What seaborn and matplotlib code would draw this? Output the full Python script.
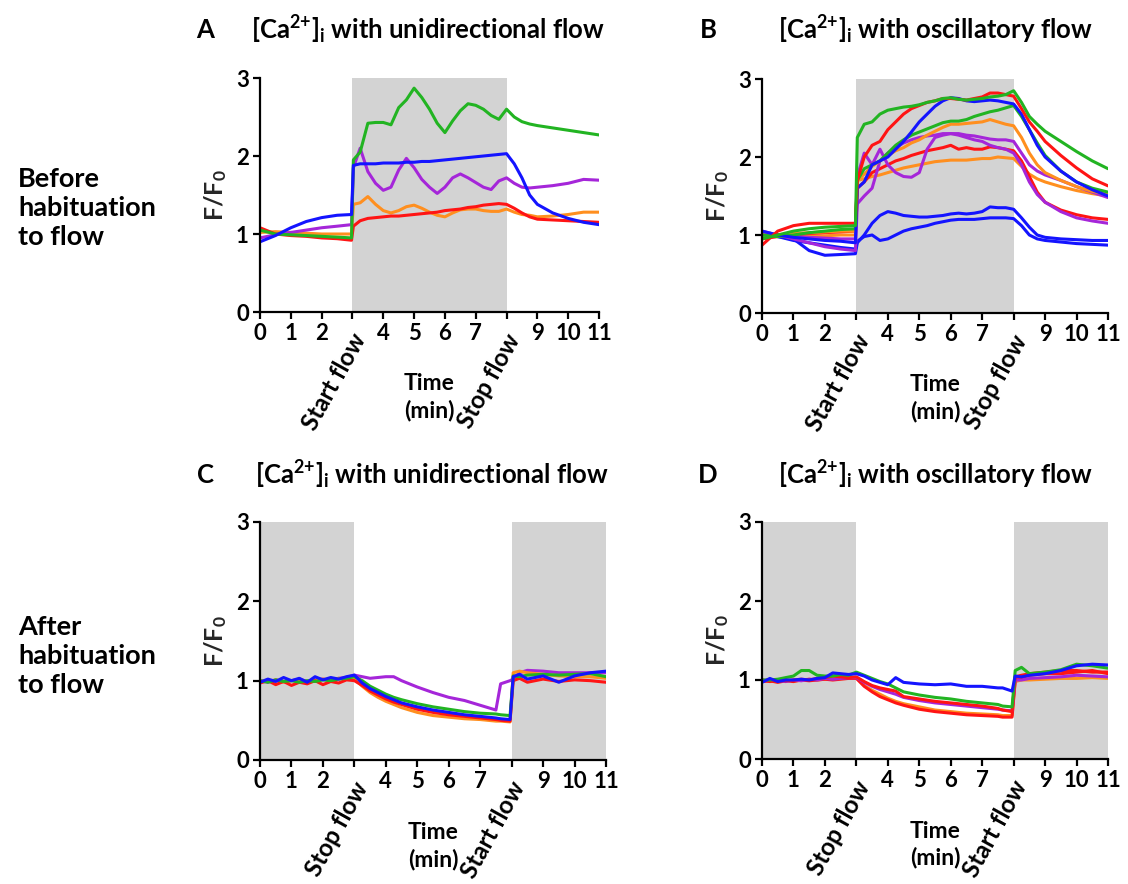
import matplotlib

matplotlib.use("Agg")
import matplotlib.pyplot as plt
import matplotlib.transforms as mtransforms
import pandas as pd
import seaborn as sns

# time grids (min)
t_top = [0, 0.5, 1, 1.5, 2, 2.5, 2.97,
         3.03, 3.25, 3.5, 3.75, 4, 4.25, 4.5, 4.75, 5,
         5.25, 5.5, 5.75, 6, 6.25, 6.5, 6.75, 7, 7.25, 7.5,
         7.75, 8, 8.25, 8.5, 8.75, 9, 9.5, 10, 10.5, 11]
t_bottom = [0, 0.25, 0.5, 0.75, 1, 1.25, 1.5, 1.75, 2, 2.25, 2.5, 2.75, 3,
            3.25, 3.5, 3.75, 4, 4.25, 4.5,
            5, 5.5, 6, 6.5, 7, 7.5,
            7.65, 7.95,
            8.05, 8.25, 8.5, 9, 9.5, 10, 10.5, 11]

# A: unidirectional flow, before habituation
a_orange = [1.02, 1.03, 1.02, 1.01, 1.00, 1.00, 1.00,
            1.38, 1.40, 1.48, 1.38, 1.30, 1.27, 1.30, 1.35, 1.37,
            1.33, 1.28, 1.24, 1.22, 1.27, 1.31, 1.32, 1.32, 1.30, 1.29,
            1.29, 1.32, 1.28, 1.25, 1.24, 1.22, 1.23, 1.25, 1.28, 1.28]
a_red = [1.08, 1.00, 0.98, 0.97, 0.95, 0.94, 0.92,
         1.10, 1.17, 1.20, 1.21, 1.22, 1.23, 1.23, 1.24, 1.25,
         1.26, 1.27, 1.28, 1.30, 1.31, 1.32, 1.34, 1.35, 1.37, 1.38,
         1.39, 1.38, 1.33, 1.27, 1.22, 1.19, 1.18, 1.17, 1.16, 1.15]
a_purple = [0.95, 0.99, 1.02, 1.05, 1.08, 1.10, 1.12,
            1.85, 2.10, 1.80, 1.65, 1.56, 1.60, 1.82, 1.97, 1.85,
            1.70, 1.60, 1.52, 1.60, 1.72, 1.77, 1.72, 1.66, 1.60, 1.57,
            1.68, 1.72, 1.65, 1.60, 1.59, 1.60, 1.62, 1.65, 1.70, 1.69]
a_green = [1.05, 1.00, 0.99, 0.98, 0.97, 0.96, 0.95,
           1.95, 2.05, 2.42, 2.43, 2.43, 2.40, 2.62, 2.72, 2.87,
           2.75, 2.60, 2.42, 2.30, 2.45, 2.58, 2.67, 2.65, 2.60, 2.52,
           2.47, 2.60, 2.50, 2.44, 2.41, 2.39, 2.36, 2.33, 2.30, 2.27]
a_blue = [0.90, 0.98, 1.08, 1.16, 1.21, 1.24, 1.25,
          1.88, 1.90, 1.90, 1.90, 1.91, 1.91, 1.91, 1.92, 1.92,
          1.93, 1.93, 1.94, 1.95, 1.96, 1.97, 1.98, 1.99, 2.00, 2.01,
          2.02, 2.03, 1.90, 1.72, 1.50, 1.38, 1.27, 1.20, 1.15, 1.12]

# B: oscillatory flow, before habituation
b_blue_low1 = [1.00, 0.98, 0.95, 0.80, 0.74, 0.75, 0.76,
               0.90, 1.00, 1.15, 1.25, 1.30, 1.28, 1.25, 1.24, 1.23,
               1.23, 1.24, 1.25, 1.27, 1.28, 1.27, 1.28, 1.30, 1.36, 1.35,
               1.35, 1.33, 1.22, 1.10, 1.00, 0.97, 0.95, 0.94, 0.93, 0.93]
b_blue_low2 = [1.02, 0.98, 0.93, 0.90, 0.87, 0.84, 0.82,
               0.92, 0.98, 1.00, 0.93, 0.95, 1.00, 1.05, 1.08, 1.10,
               1.12, 1.15, 1.17, 1.19, 1.20, 1.20, 1.20, 1.21, 1.22, 1.22,
               1.22, 1.21, 1.12, 1.00, 0.95, 0.93, 0.91, 0.89, 0.88, 0.87]
b_orange2 = [1.00, 1.00, 0.99, 0.99, 0.99, 1.00, 1.00,
             1.70, 1.72, 1.75, 1.77, 1.80, 1.83, 1.86, 1.88, 1.90,
             1.92, 1.94, 1.95, 1.96, 1.96, 1.96, 1.97, 1.98, 1.98, 2.00,
             1.99, 1.98, 1.88, 1.78, 1.72, 1.68, 1.62, 1.57, 1.53, 1.50]
b_red2 = [0.95, 0.98, 1.00, 1.02, 1.03, 1.04, 1.05,
          1.60, 1.68, 1.80, 1.85, 1.90, 1.95, 1.98, 2.02, 2.05,
          2.08, 2.10, 2.12, 2.15, 2.10, 2.12, 2.10, 2.10, 2.13, 2.12,
          2.10, 2.08, 1.95, 1.75, 1.55, 1.42, 1.32, 1.26, 1.22, 1.20]
b_purple2 = [1.00, 0.99, 0.98, 0.97, 0.96, 0.95, 0.95,
             1.75, 2.05, 1.90, 2.10, 1.90, 1.80, 1.75, 1.74, 1.80,
             2.10, 2.25, 2.28, 2.30, 2.28, 2.25, 2.22, 2.20, 2.15, 2.12,
             2.10, 2.05, 1.90, 1.68, 1.52, 1.42, 1.30, 1.22, 1.18, 1.15]
b_purple1 = [1.05, 1.00, 0.95, 0.90, 0.85, 0.82, 0.80,
             1.40, 1.50, 1.60, 1.95, 2.05, 2.12, 2.18, 2.22, 2.25,
             2.27, 2.28, 2.30, 2.30, 2.30, 2.28, 2.27, 2.25, 2.23, 2.22,
             2.22, 2.20, 2.05, 1.90, 1.82, 1.77, 1.70, 1.62, 1.55, 1.48]
b_orange1 = [1.00, 1.00, 1.02, 1.03, 1.04, 1.05, 1.05,
             1.70, 1.78, 1.88, 1.95, 2.02, 2.08, 2.12, 2.18, 2.22,
             2.28, 2.33, 2.38, 2.42, 2.42, 2.43, 2.44, 2.45, 2.48, 2.45,
             2.42, 2.40, 2.25, 2.05, 1.90, 1.80, 1.70, 1.62, 1.56, 1.52]
b_green2 = [1.00, 0.98, 1.00, 1.03, 1.05, 1.07, 1.08,
            1.70, 1.85, 1.90, 1.95, 2.05, 2.15, 2.22, 2.28, 2.32,
            2.36, 2.40, 2.44, 2.46, 2.46, 2.48, 2.52, 2.55, 2.58, 2.60,
            2.63, 2.66, 2.52, 2.35, 2.18, 2.02, 1.82, 1.68, 1.60, 1.55]
b_blue_high = [1.05, 1.00, 0.97, 0.95, 0.93, 0.92, 0.90,
               1.60, 1.68, 1.90, 1.95, 2.00, 2.10, 2.20, 2.32, 2.45,
               2.55, 2.65, 2.72, 2.76, 2.75, 2.72, 2.71, 2.72, 2.73, 2.72,
               2.70, 2.68, 2.55, 2.35, 2.15, 2.00, 1.82, 1.68, 1.58, 1.50]
b_red1 = [0.87, 1.05, 1.12, 1.15, 1.15, 1.15, 1.15,
          1.70, 2.00, 2.15, 2.20, 2.35, 2.45, 2.55, 2.62, 2.66,
          2.70, 2.72, 2.75, 2.75, 2.74, 2.73, 2.75, 2.77, 2.82, 2.82,
          2.80, 2.78, 2.62, 2.45, 2.33, 2.20, 2.02, 1.86, 1.72, 1.63]
b_green1 = [0.95, 1.00, 1.05, 1.08, 1.10, 1.11, 1.12,
            2.25, 2.42, 2.45, 2.55, 2.60, 2.62, 2.64, 2.65, 2.67,
            2.70, 2.72, 2.75, 2.76, 2.74, 2.73, 2.74, 2.75, 2.77, 2.78,
            2.80, 2.85, 2.70, 2.52, 2.42, 2.33, 2.20, 2.07, 1.95, 1.85]

# C: unidirectional flow, after habituation
c_purple = [1.00, 0.98, 1.01, 0.99, 1.00, 1.02, 0.99, 1.01, 1.02, 1.00, 1.03, 1.04, 1.07,
            1.05, 1.03, 1.04, 1.05, 1.05, 1.00,
            0.92, 0.85, 0.79, 0.75, 0.69, 0.63,
            0.96, 1.00,
            1.02, 1.10, 1.13, 1.12, 1.10, 1.10, 1.10, 1.10]
c_orange = [1.00, 0.99, 1.01, 0.98, 1.00, 1.01, 0.99, 1.00, 1.02, 1.01, 1.03, 1.02, 1.02,
            0.93, 0.85, 0.79, 0.74, 0.70, 0.66,
            0.60, 0.56, 0.54, 0.52, 0.51, 0.49,
            0.49, 0.48,
            1.10, 1.12, 1.10, 1.08, 1.06, 1.05, 1.05, 1.03]
c_red = [0.97, 1.00, 0.95, 0.99, 0.94, 0.98, 0.96, 1.00, 0.95, 0.99, 0.97, 1.01, 1.00,
         0.94, 0.87, 0.82, 0.77, 0.73, 0.70,
         0.64, 0.60, 0.57, 0.55, 0.53, 0.51,
         0.50, 0.49,
         1.00, 1.03, 0.98, 1.02, 0.99, 1.01, 1.00, 0.98]
c_green = [1.00, 0.98, 1.01, 0.99, 1.00, 0.98, 1.00, 0.99, 1.01, 1.00, 1.02, 1.03, 1.05,
           1.00, 0.93, 0.88, 0.83, 0.79, 0.76,
           0.71, 0.67, 0.64, 0.61, 0.59, 0.58,
           0.57, 0.56,
           1.06, 1.05, 1.07, 1.08, 1.07, 1.08, 1.09, 1.05]
c_blue = [0.98, 1.02, 0.99, 1.04, 1.00, 1.03, 0.98, 1.05, 1.01, 1.04, 1.02, 1.05, 1.07,
          0.97, 0.90, 0.85, 0.80, 0.76, 0.72,
          0.67, 0.63, 0.60, 0.57, 0.55, 0.53,
          0.52, 0.51,
          1.05, 1.08, 1.02, 1.06, 0.98, 1.06, 1.10, 1.12]

# D: oscillatory flow, after habituation
d_orange = [0.99, 1.00, 0.98, 1.00, 0.99, 1.00, 1.01, 1.00, 1.01, 1.02, 1.02, 1.03, 1.03,
            0.93, 0.87, 0.82, 0.77, 0.73, 0.70,
            0.66, 0.62, 0.60, 0.58, 0.57, 0.56,
            0.55, 0.55,
            0.98, 1.00, 1.00, 1.01, 1.02, 1.02, 1.03, 1.02]
d_red2 = [0.98, 0.99, 0.97, 0.99, 0.98, 1.00, 0.99, 1.00, 1.01, 1.00, 1.01, 1.02, 1.02,
          0.92, 0.85, 0.79, 0.75, 0.71, 0.68,
          0.63, 0.60, 0.58, 0.56, 0.55, 0.54,
          0.53, 0.53,
          1.00, 1.03, 1.06, 1.08, 1.08, 1.10, 1.12, 1.08]
d_purple = [1.00, 0.99, 1.00, 0.98, 1.00, 0.99, 1.01, 1.00, 1.02, 1.01, 1.02, 1.03, 1.03,
            0.97, 0.92, 0.88, 0.85, 0.82, 0.78,
            0.74, 0.71, 0.69, 0.67, 0.65, 0.63,
            0.62, 0.61,
            1.00, 1.00, 1.02, 1.03, 1.04, 1.06, 1.05, 1.04]
d_red1 = [1.00, 0.98, 1.00, 0.99, 1.00, 1.01, 1.00, 1.02, 1.03, 1.05, 1.04, 1.03, 1.04,
          0.98, 0.93, 0.90, 0.88, 0.86, 0.79,
          0.76, 0.73, 0.71, 0.69, 0.67, 0.64,
          0.62, 0.60,
          1.04, 1.06, 1.08, 1.10, 1.12, 1.12, 1.10, 1.10]
d_green = [1.00, 1.00, 1.01, 1.03, 1.05, 1.12, 1.12, 1.06, 1.05, 1.05, 1.07, 1.06, 1.10,
           1.06, 1.02, 0.98, 0.95, 0.90, 0.85,
           0.81, 0.78, 0.76, 0.73, 0.71, 0.69,
           0.67, 0.66,
           1.12, 1.16, 1.08, 1.10, 1.13, 1.20, 1.18, 1.15]
d_blue = [0.97, 1.02, 0.98, 1.00, 1.00, 1.01, 1.00, 1.02, 1.03, 1.09, 1.08, 1.07, 1.08,
          1.05, 1.00, 0.97, 0.94, 1.03, 0.97,
          0.95, 0.94, 0.95, 0.92, 0.92, 0.90,
          0.90, 0.86,
          1.05, 1.04, 1.06, 1.08, 1.12, 1.18, 1.20, 1.19]

tick_values = list(range(12))
tick_labels = ["0", "1", "2", "", "4", "5", "6", "7", "", "9", "10", "11"]

GREEN = "#22b422"
BLUE = "#1414ff"
PURPLE = "#a526d9"
ORANGE = "#ff8f1f"
RED = "#ff1414"
SHADE = "#d3d3d3"

W, H = 1128, 884


def long_frame(time, traces):
    rows = []
    for name, _, values in traces:
        for t, v in zip(time, values):
            rows.append({"time": t, "ratio": v, "trace": name})
    return pd.DataFrame(rows)


def draw_panel(fig, rect, time, traces, spans, markers, letter, title, letter_xy, title_xy):
    ax = fig.add_axes(rect)
    for lo, hi in spans:
        ax.axvspan(lo, hi, color=SHADE, lw=0, zorder=0)
    frame = long_frame(time, traces)
    palette = {name: color for name, color, _ in traces}
    sns.lineplot(data=frame, x="time", y="ratio", hue="trace", hue_order=[n for n, _, _ in traces],
                 palette=palette, estimator=None, sort=False, legend=False, lw=2.2, ax=ax)
    ax.set_xlim(0, 11)
    ax.set_ylim(0, 3)
    ax.set_xticks(tick_values)
    ax.set_xticklabels(tick_labels)
    ax.set_yticks([0, 1, 2, 3])
    ax.set_xlabel("")
    ax.set_ylabel("F/F$_0$", fontsize=18, labelpad=5)
    for side in ("top", "right"):
        ax.spines[side].set_visible(False)
    for side in ("left", "bottom"):
        ax.spines[side].set_linewidth(1.6)
        ax.spines[side].set_color("black")
    ax.tick_params(axis="both", length=5, width=1.6, labelsize=16, pad=3, color="black")

    trans = mtransforms.blended_transform_factory(ax.transData, ax.transAxes)
    for xpos, label in markers:
        ax.text(xpos - 0.08, -0.075, label, transform=trans, rotation=61,
                rotation_mode="anchor", ha="right", va="top", fontsize=17.5)
    ax.text(0.5, -0.26, "Time\n(min)", transform=ax.transAxes, ha="center", va="top",
            fontsize=16.5, linespacing=1.3)

    fig.text(letter_xy[0] / W, 1 - letter_xy[1] / H, letter, ha="center", va="center", fontsize=18.5)
    fig.text(title_xy[0] / W, 1 - title_xy[1] / H, title, ha="center", va="center", fontsize=18.5)
    return ax


def main():
    sns.set_theme(style="ticks")
    plt.rcParams["font.family"] = ["Lato", "DejaVu Sans"]
    plt.rcParams["font.weight"] = "bold"
    plt.rcParams["axes.labelweight"] = "bold"
    plt.rcParams["mathtext.fontset"] = "custom"
    plt.rcParams["mathtext.rm"] = "Lato:bold"
    plt.rcParams["mathtext.it"] = "Lato:bold"
    plt.rcParams["mathtext.bf"] = "Lato:bold"
    plt.rcParams["text.color"] = "black"
    plt.rcParams["xtick.color"] = "black"
    plt.rcParams["ytick.color"] = "black"

    fig = plt.figure(figsize=(W / 100, H / 100), dpi=100)

    traces_a = [("orange", ORANGE, a_orange), ("red", RED, a_red), ("purple", PURPLE, a_purple),
                ("green", GREEN, a_green), ("blue", BLUE, a_blue)]
    traces_b = [("blue_low1", BLUE, b_blue_low1), ("blue_low2", BLUE, b_blue_low2),
                ("orange2", ORANGE, b_orange2), ("red2", RED, b_red2),
                ("purple2", PURPLE, b_purple2), ("purple1", PURPLE, b_purple1),
                ("orange1", ORANGE, b_orange1), ("green2", GREEN, b_green2),
                ("blue_high", BLUE, b_blue_high), ("red1", RED, b_red1), ("green1", GREEN, b_green1)]
    traces_c = [("purple", PURPLE, c_purple), ("orange", ORANGE, c_orange), ("red", RED, c_red),
                ("green", GREEN, c_green), ("blue", BLUE, c_blue)]
    traces_d = [("orange", ORANGE, d_orange), ("red2", RED, d_red2), ("purple", PURPLE, d_purple),
                ("red1", RED, d_red1), ("green", GREEN, d_green), ("blue", BLUE, d_blue)]

    uni = "[Ca$^{2{+}}$]$_{i}$ with unidirectional flow"
    osc = "[Ca$^{2{+}}$]$_{i}$ with oscillatory flow"

    draw_panel(fig, [260 / W, 1 - 312 / H, 339 / W, 234 / H], t_top, traces_a, [(3, 8)],
               [(3, "Start flow"), (8, "Stop flow")], "A", uni, (205, 30), (428, 30))
    draw_panel(fig, [762 / W, 1 - 313 / H, 346 / W, 234 / H], t_top, traces_b, [(3, 8)],
               [(3, "Start flow"), (8, "Stop flow")], "B", osc, (708, 30), (936, 30))
    draw_panel(fig, [260 / W, 1 - 760 / H, 346 / W, 238 / H], t_bottom, traces_c, [(0, 3), (8, 11)],
               [(3, "Stop flow"), (8, "Start flow")], "C", uni, (205, 475), (432, 475))
    draw_panel(fig, [762 / W, 1 - 759 / H, 346 / W, 237 / H], t_bottom, traces_d, [(0, 3), (8, 11)],
               [(3, "Stop flow"), (8, "Start flow")], "D", osc, (708, 475), (936, 475))

    fig.text(18 / W, 1 - 208 / H, "Before\nhabituation\nto flow", ha="left", va="center",
             fontsize=19.5, linespacing=1.25)
    fig.text(18 / W, 1 - 656 / H, "After\nhabituation\nto flow", ha="left", va="center",
             fontsize=19.5, linespacing=1.25)

    fig.savefig("out.png", dpi=100, facecolor="white")
    plt.close(fig)


if __name__ == "__main__":
    main()
